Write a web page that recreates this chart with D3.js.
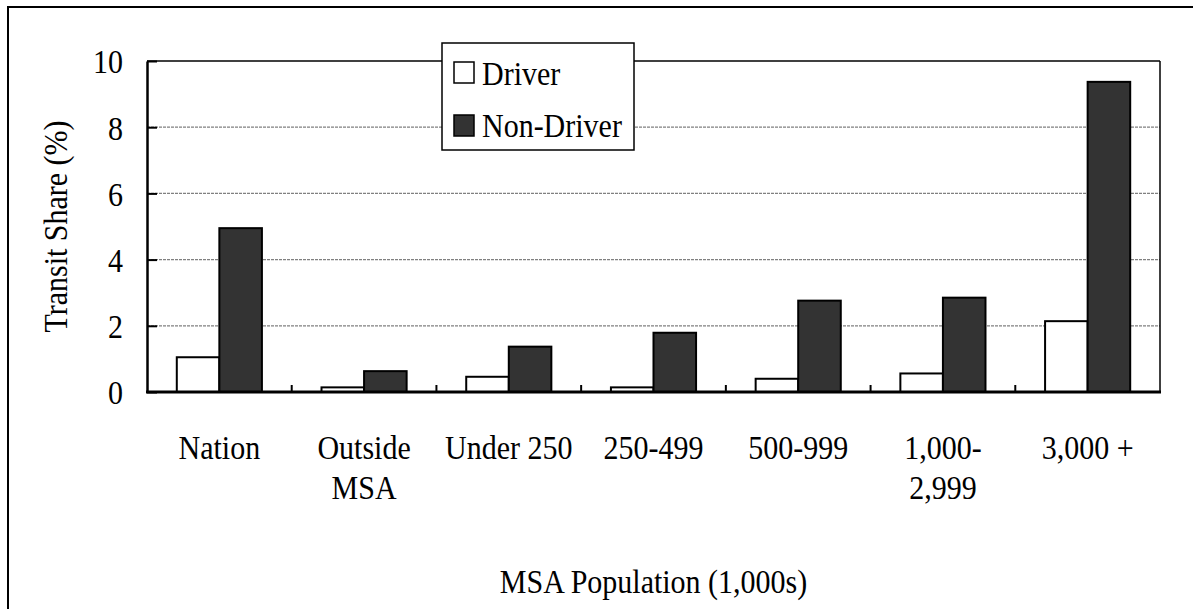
<!DOCTYPE html>
<html>
<head>
<meta charset="utf-8">
<script src="https://cdn.jsdelivr.net/npm/d3@7"></script>
<style>
  body { margin: 0; background: #fff; }
</style>
</head>
<body>
<svg id="chart" width="1193" height="609"></svg>
<script>
// chart values
const categories = ["Nation", "Outside\nMSA", "Under 250", "250-499", "500-999", "1,000-\n2,999", "3,000 +"];
const seriesNames = ["Driver", "Non-Driver"];
const driver = [1.05, 0.14, 0.46, 0.14, 0.40, 0.56, 2.14];
const nonDriver = [4.95, 0.63, 1.37, 1.79, 2.76, 2.85, 9.37];
const yTicks = [0, 2, 4, 6, 8, 10];

const colors = {"Driver": "#ffffff", "Non-Driver": "#333333"};
const serif = "'Liberation Serif', 'Times New Roman', Times, serif";
const fontSize = 30;
const stretch = "scale(1,1.1)"; // source text looks slightly tall

const svg = d3.select("#chart");

// outer frame (runs off the right and bottom edge)
svg.append("rect")
  .attr("x", 8).attr("y", 7)
  .attr("width", 1300).attr("height", 700)
  .attr("fill", "none").attr("stroke", "#000").attr("stroke-width", 2);

const plotLeft = 147, plotRight = 1160, plotTop = 61, plotBottom = 392;

const x = d3.scaleBand().domain(categories).range([plotLeft, plotRight]).padding(0);
const xs = d3.scaleBand().domain(seriesNames).range([0, x.bandwidth()]).paddingOuter(0.7).paddingInner(0);
const y = d3.scaleLinear().domain([0, 10]).range([plotBottom, plotTop]);

// dashed gridlines
svg.append("g")
  .selectAll("line")
  .data(yTicks.filter(t => t > 0 && t < 10))
  .join("line")
    .attr("x1", plotLeft).attr("x2", plotRight)
    .attr("y1", d => y(d)).attr("y2", d => y(d))
    .attr("stroke", "#808080")
    .attr("stroke-width", 1.2)
    .attr("stroke-dasharray", "3,1");

// top and right frame of plot
svg.append("line")
  .attr("x1", plotLeft).attr("x2", plotRight).attr("y1", y(10)).attr("y2", y(10))
  .attr("stroke", "#000").attr("stroke-width", 1.5);
svg.append("line")
  .attr("x1", plotRight).attr("x2", plotRight).attr("y1", plotTop).attr("y2", plotBottom)
  .attr("stroke", "#000").attr("stroke-width", 1.5);

// bars
const rows = categories.map((c, i) => ({cat: c, values: [
  {key: "Driver", value: driver[i]},
  {key: "Non-Driver", value: nonDriver[i]}
]}));

svg.append("g")
  .selectAll("g")
  .data(rows)
  .join("g")
    .attr("transform", d => `translate(${x(d.cat)},0)`)
  .selectAll("rect")
  .data(d => d.values)
  .join("rect")
    .attr("x", d => xs(d.key))
    .attr("y", d => y(d.value))
    .attr("width", xs.bandwidth())
    .attr("height", d => y(0) - y(d.value))
    .attr("fill", d => colors[d.key])
    .attr("stroke", "#000")
    .attr("stroke-width", 2);

// y axis
const yAxis = svg.append("g")
  .attr("transform", `translate(${plotLeft},0)`)
  .call(d3.axisLeft(y).tickValues(yTicks).tickSizeInner(-10).tickSizeOuter(0).tickPadding(24));
yAxis.select(".domain").attr("stroke", "#000").attr("stroke-width", 2.5);
yAxis.selectAll(".tick line").attr("stroke", "#000").attr("stroke-width", 2);
yAxis.selectAll(".tick text")
  .style("font-family", serif)
  .style("font-size", fontSize + "px")
  .attr("fill", "#000")
  .attr("x", 0)
  .attr("dy", "0.36em")
  .attr("transform", `translate(-24,0) ${stretch}`);

// x axis: small ticks between categories
const boundaries = categories.slice(1).map(c => x(c));
svg.append("g")
  .selectAll("line")
  .data(boundaries)
  .join("line")
    .attr("x1", d => d).attr("x2", d => d)
    .attr("y1", plotBottom).attr("y2", plotBottom - 7)
    .attr("stroke", "#000").attr("stroke-width", 2);
svg.append("line")
  .attr("x1", plotLeft - 1).attr("x2", plotRight + 1).attr("y1", plotBottom).attr("y2", plotBottom)
  .attr("stroke", "#000").attr("stroke-width", 3);

// category labels
svg.append("g")
  .selectAll("text")
  .data(categories)
  .join("text")
    .attr("text-anchor", "middle")
    .attr("transform", d => `translate(${x(d) + x.bandwidth() / 2},459) ${stretch}`)
    .style("font-family", serif)
    .style("font-size", fontSize + "px")
    .each(function(d) {
      const t = d3.select(this);
      d.split("\n").forEach((line, i) => {
        t.append("tspan")
          .attr("x", 0)
          .attr("y", i * 40 / 1.1)
          .text(line);
      });
    });

// axis titles
svg.append("text")
  .attr("transform", `translate(${(plotLeft + plotRight) / 2},593) ${stretch}`)
  .attr("text-anchor", "middle")
  .style("font-family", serif)
  .style("font-size", fontSize + "px")
  .text("MSA Population (1,000s)");

svg.append("text")
  .attr("transform", `translate(67,${(plotTop + plotBottom) / 2}) rotate(-90) ${stretch}`)
  .attr("text-anchor", "middle")
  .style("font-family", serif)
  .style("font-size", fontSize + "px")
  .text("Transit Share (%)");

// legend
const legend = svg.append("g");
legend.append("rect")
  .attr("x", 442).attr("y", 43).attr("width", 192).attr("height", 107)
  .attr("fill", "#fff").attr("stroke", "#000").attr("stroke-width", 1.5);
seriesNames.forEach((name, i) => {
  legend.append("rect")
    .attr("x", 454).attr("y", 62 + i * 53).attr("width", 20).attr("height", 21)
    .attr("fill", colors[name]).attr("stroke", "#000").attr("stroke-width", 1.5);
  legend.append("text")
    .attr("transform", `translate(482,${85 + i * 52}) ${stretch}`)
    .style("font-family", serif)
    .style("font-size", fontSize + "px")
    .text(name);
});
</script>
</body>
</html>
